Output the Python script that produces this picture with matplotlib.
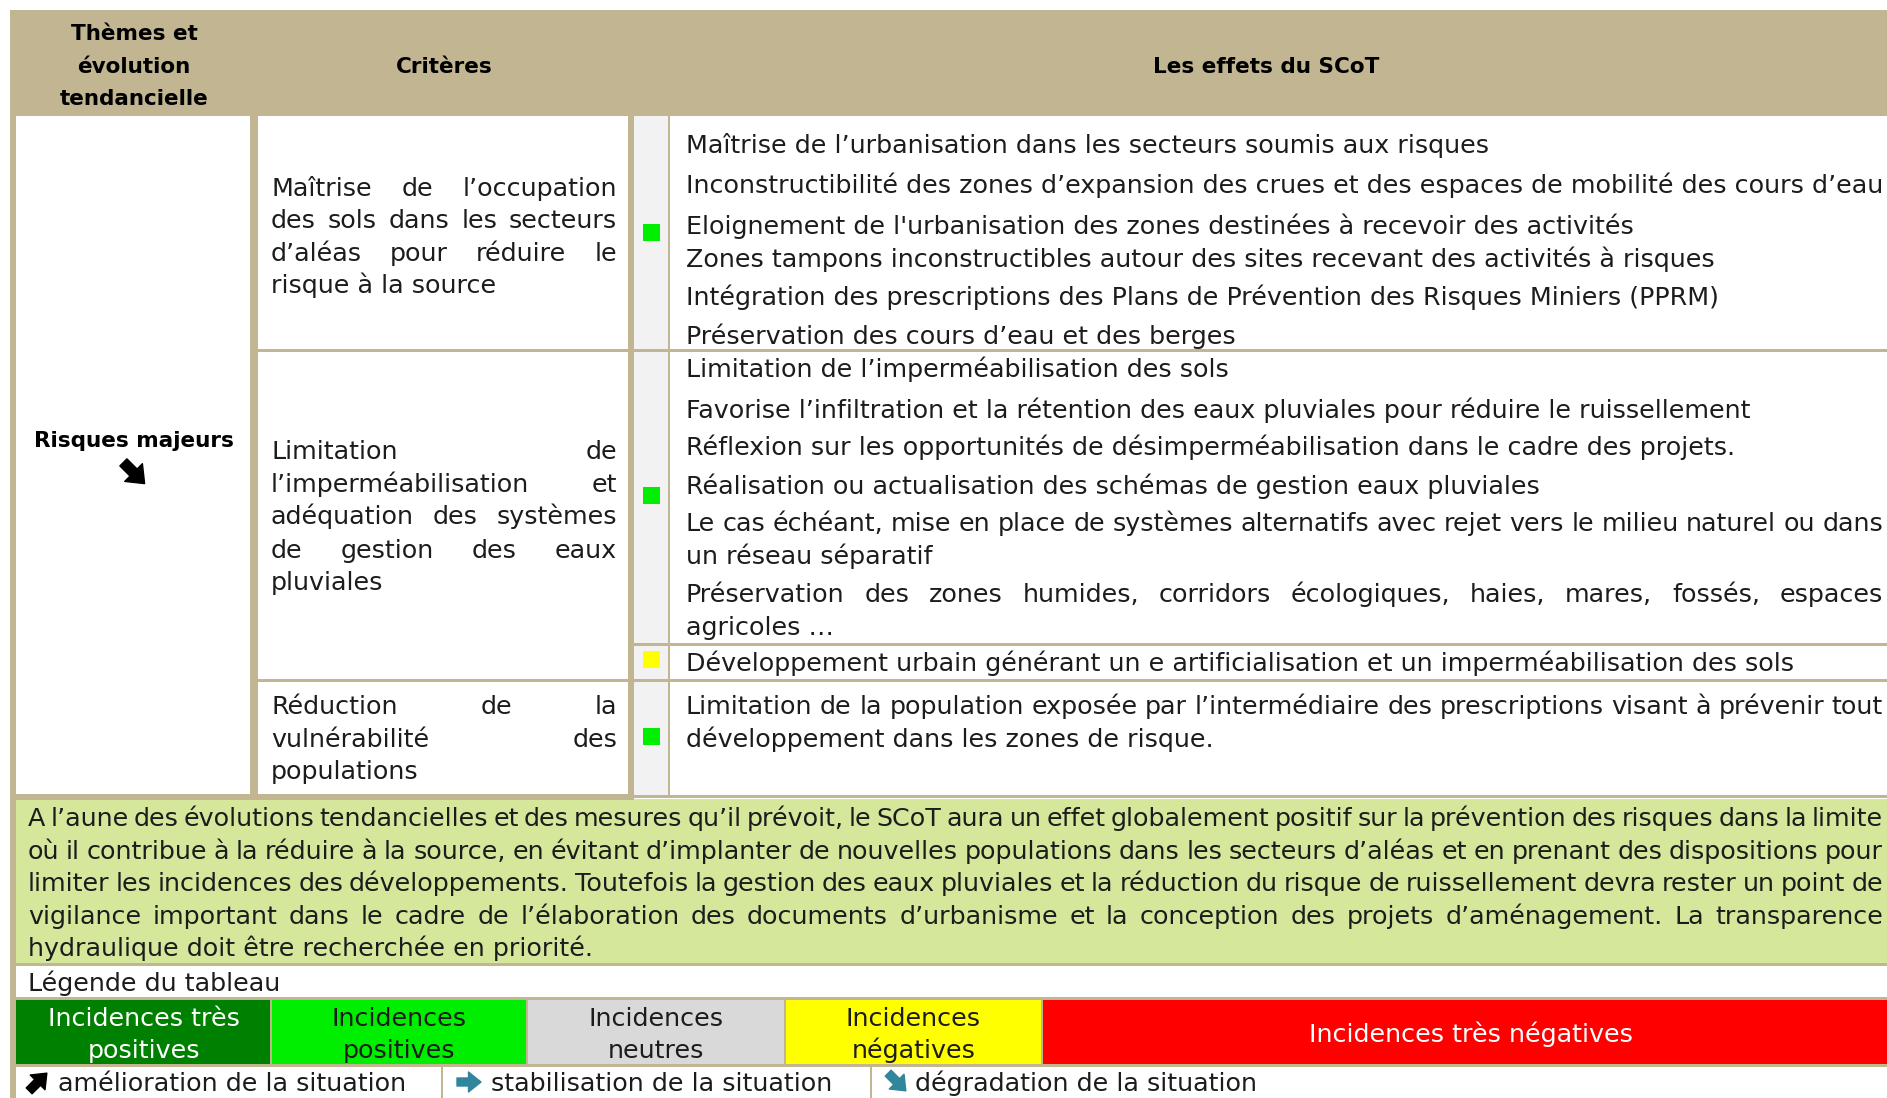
import matplotlib
matplotlib.use("Agg")
import matplotlib.pyplot as plt
from matplotlib.patches import Rectangle

# ---------------- data ----------------
header_labels = ["Thèmes et\névolution\ntendancielle", "Critères", "Les effets du SCoT"]
theme_label = "Risques majeurs"
theme_trend = "➘"

criteria = [
    ["Maîtrise de l’occupation", "des sols dans les secteurs", "d’aléas pour réduire le", "risque à la source"],
    ["Limitation de", "l’imperméabilisation et", "adéquation des systèmes", "de gestion des eaux", "pluviales"],
    ["Réduction de la", "vulnérabilité des", "populations"],
]

effect_blocks = [
    [["Maîtrise de l’urbanisation dans les secteurs soumis aux risques"],
     ["Inconstructibilité des zones d’expansion des crues et des espaces de mobilité des cours d’eau"],
     ["Eloignement de l'urbanisation des zones destinées à recevoir des activités"],
     ["Zones tampons inconstructibles autour des sites recevant des activités à risques"],
     ["Intégration des prescriptions des Plans de Prévention des Risques Miniers (PPRM)"],
     ["Préservation des cours d’eau et des berges"]],
    [["Limitation de l’imperméabilisation des sols"],
     ["Favorise l’infiltration et la rétention des eaux pluviales pour réduire le ruissellement"],
     ["Réflexion sur les opportunités de désimperméabilisation dans le cadre des projets."],
     ["Réalisation ou actualisation des schémas de gestion eaux pluviales"],
     ["Le cas échéant, mise en place de systèmes alternatifs avec rejet vers le milieu naturel ou dans",
      "un réseau séparatif"],
     ["Préservation des zones humides, corridors écologiques, haies, mares, fossés, espaces",
      "agricoles …"]],
    [["Développement urbain générant un e artificialisation et un imperméabilisation des sols"]],
    [["Limitation de la population exposée par l’intermédiaire des prescriptions visant à prévenir tout",
      "développement dans les zones de risque."]],
]
block_impact = ["positive", "positive", "negative", "positive"]

summary_lines = [
    "A l’aune des évolutions tendancielles et des mesures qu’il prévoit, le SCoT aura un effet globalement positif sur la prévention des risques dans la limite",
    "où il contribue à la réduire à la source, en évitant d’implanter de nouvelles populations dans les secteurs d’aléas et en prenant des dispositions pour",
    "limiter les incidences des développements.  Toutefois la gestion des eaux pluviales et la réduction du risque de ruissellement devra rester un point de",
    "vigilance important dans le cadre de l’élaboration des documents d’urbanisme et la conception des projets d’aménagement. La transparence",
    "hydraulique doit être recherchée en priorité.",
]

legend_title = "Légende du tableau"
legend_labels = ["Incidences très\npositives", "Incidences\npositives", "Incidences\nneutres",
                 "Incidences\nnégatives", "Incidences très négatives"]
legend_keys = ["very_positive", "positive", "neutral", "negative", "very_negative"]
trend_arrows = ["➚", "➔", "➘"]
trend_labels = ["amélioration de la situation", "stabilisation de la situation", "dégradation de la situation"]

# ---------------- styles ----------------
FONT = "DejaVu Sans"
TAN = "#C2B591"
GREEN_BOX = "#D5E79B"
IND_GRAY = "#F2F2F2"
TXT = "#1c1c1c"
TEAL = "#31869B"
impact_colors = {"very_positive": "#008000", "positive": "#00EE00", "neutral": "#D9D9D9",
                 "negative": "#FFFF00", "very_negative": "#FF0000"}
legend_text_colors = ["white", TXT, TXT, TXT, "white"]
trend_colors = ["black", TEAL, TEAL]
arrow_dirs = {"➚": (1, -1), "➔": (1, 0), "➘": (1, 1)}

W, H = 1887, 1098
fig = plt.figure(figsize=(W / 100, H / 100), dpi=100)
ax = fig.add_axes([0, 0, 1, 1])
ax.set_xlim(0, W)
ax.set_ylim(H, 0)
ax.axis("off")
R = fig.canvas.get_renderer()


def tw(s, size, weight="normal"):
    t = ax.text(0, 0, s, fontsize=size, fontweight=weight, family=FONT)
    w = t.get_window_extent(renderer=R).width
    t.remove()
    return w


def base(yc, size):
    return yc + 0.37 * size * 100 / 72


def put(x, yc, s, size, ha="left", weight="normal", color=TXT):
    ax.text(x, base(yc, size), s, fontsize=size, fontweight=weight, family=FONT,
            ha=ha, va="baseline", color=color)


def justify(line, x0, x1, yc, size, color=TXT):
    words = line.split()
    widths = [tw(w, size) for w in words]
    if len(words) == 1:
        put(x0, yc, line, size, color=color)
        return
    gap = (x1 - x0 - sum(widths)) / (len(words) - 1)
    x = x0
    for w, wd in zip(words, widths):
        put(x, yc, w, size, color=color)
        x += wd + gap


def rect(x0, y0, x1, y1, color):
    ax.add_patch(Rectangle((x0, y0), x1 - x0, y1 - y0, facecolor=color, edgecolor="none", lw=0))


def heavy_arrow(cx, cy, glyph, length, color):
    dx, dy = arrow_dirs[glyph]
    n = (dx * dx + dy * dy) ** 0.5
    hx, hy = dx / n * length / 2, dy / n * length / 2
    ax.annotate("", xy=(cx + hx, cy + hy), xytext=(cx - hx, cy - hy),
                arrowprops=dict(arrowstyle="simple,head_length=0.5,head_width=0.8,tail_width=0.32",
                                color=color, mutation_scale=length * 0.75, shrinkA=0, shrinkB=0))


# sizes
body = 10 * 1197 / tw(effect_blocks[0][1][0], 10)
bold = 10 * 227 / tw(header_labels[2], 10, "bold")

# ---------------- table frame ----------------
rect(10, 10, W, 116, TAN)                 # header band
rect(10, 10, 16, H, TAN)                  # left outer border
rect(250, 116, 258, 800, TAN)             # col1 | col2
rect(628, 116, 634, 800, TAN)             # col2 | indicator
rect(634, 116, 668, 795, IND_GRAY)        # indicator column
rect(668, 116, 670, 795, TAN)             # indicator | effects
rect(258, 349, W, 352, TAN)               # row 1 / row 2
rect(634, 643, W, 646, TAN)               # green / yellow in row 2
rect(258, 679, W, 682, TAN)               # row 2 / row 3
rect(16, 799, W, 963, GREEN_BOX)          # summary box
rect(10, 794, 634, 800, TAN)              # thick bottom of left cols
rect(634, 795, W, 798, TAN)
rect(10, 963, W, 966, TAN)
rect(10, 997, W, 1000, TAN)
rect(10, 1064, W, 1067, TAN)

# ---------------- header ----------------
for i, ln in enumerate(header_labels[0].split("\n")):
    put(134, [32, 65, 97][i], ln, bold, ha="center", weight="bold", color="black")
put(444, 65, header_labels[1], bold, ha="center", weight="bold", color="black")
put(1266, 65, header_labels[2], bold, ha="center", weight="bold", color="black")

put(134, 439, theme_label, bold, ha="center", weight="bold", color="black")
heavy_arrow(134, 473, theme_trend, 30, "black")

# ---------------- criteria ----------------
crit_y = [[187, 219, 252, 284], [450, 483, 515, 549, 581], [705, 738, 770]]
for para, ys in zip(criteria, crit_y):
    for j, (ln, y) in enumerate(zip(para, ys)):
        if j < len(para) - 1:
            justify(ln, 271, 617, y, body)
        else:
            put(271, y, ln, body)

# ---------------- effects ----------------
eff_y = [[[144], [184], [225], [258], [296], [335]],
         [[368], [409], [446], [485], [522, 555], [593, 626]],
         [[662]],
         [[705, 738]]]
square_y = [232, 495, 659, 736]
for blk, ys, imp, sy in zip(effect_blocks, eff_y, block_impact, square_y):
    for para, pys in zip(blk, ys):
        for j, (ln, y) in enumerate(zip(para, pys)):
            if j < len(para) - 1:
                justify(ln, 686, 1883, y, body)
            else:
                put(686, y, ln, body)
    rect(643, sy - 8.5, 660, sy + 8.5, impact_colors[imp])

# ---------------- summary ----------------
sum_y = [817, 850, 882, 915, 947]
for i, (ln, y) in enumerate(zip(summary_lines, sum_y)):
    if i < len(summary_lines) - 1:
        justify(ln, 28, 1883, y, body)
    else:
        put(28, y, ln, body)

# ---------------- legend ----------------
put(28, 982, legend_title, body)
edges = [16, 271, 527, 785, 1042, W]
for k, (lab, key, tc) in enumerate(zip(legend_labels, legend_keys, legend_text_colors)):
    x0, x1 = edges[k], edges[k + 1]
    rect(x0, 1000, x1, 1064, impact_colors[key])
    if k > 0:
        rect(x0 - 1, 1000, x0 + 1, 1064, TAN)
    lines = lab.split("\n")
    cx = (x0 + x1) / 2
    if len(lines) == 2:
        put(cx, 1017, lines[0], body, ha="center", color=tc)
        put(cx, 1049, lines[1], body, ha="center", color=tc)
    else:
        put(cx + 6, 1033, lines[0], body, ha="center", color=tc)

arrow_x = [38, 469, 897]
text_x = [58, 491, 915]
for axx, tx, arr, lab, col in zip(arrow_x, text_x, trend_arrows, trend_labels, trend_colors):
    heavy_arrow(axx, 1082, arr, 25 if arr != "➔" else 24, col)
    put(tx, 1082, lab, body)
for sx in [442, 871]:
    rect(sx - 1, 1067, sx + 1, H, TAN)

fig.savefig("out.png", dpi=100)
